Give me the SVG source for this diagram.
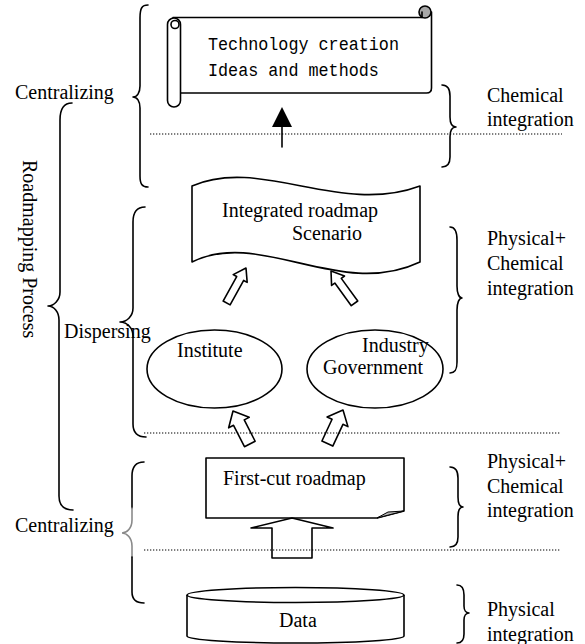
<svg xmlns="http://www.w3.org/2000/svg" width="585" height="644" viewBox="0 0 585 644">
<defs>
<style>
.ln{fill:none;stroke:#000;stroke-width:1.6;stroke-linejoin:round;stroke-linecap:round}
.gr{fill:none;stroke:#8a8a8a;stroke-width:1.6;stroke-linecap:round}
.sh{fill:#fff;stroke:#000;stroke-width:1.6;stroke-linejoin:round}
.dot{fill:none;stroke:#000;stroke-width:1.2;stroke-dasharray:1.3 1.7}
.t{font-family:"Liberation Serif","Times New Roman",serif;font-size:20px;fill:#000}
.m{font-family:"Liberation Mono","Courier New",monospace;font-size:16.75px;fill:#000}
</style>
<polygon id="arS" points="0,0 8,12 4,12 4,40 -4,40 -4,12 -8,12"/>
<polygon id="arL" points="0,0 11.5,13 6,13 6,37 -6,37 -6,13 -11.5,13"/>
</defs>
<rect width="585" height="644" fill="#fff"/>

<g id="braces">
<path class="ln" d="M148,5 C142,5 140,8 140,18 L140,86 C140,93 137,97 133,97 C137,97 140,101 140,108 L140,176 C140,184 142,187 148,187"/>
<path class="ln" d="M72,103 C64,103 60,108 60,120 L60,292 C60,300 54,306 48,306 C54,306 59,312 59,320 L59,496 C59,505 64,510 73,510"/>
<path class="ln" d="M145,207 C138,207 133,211 133,222 L133,308 C133,316 127,322 120,322 C127,322 133,328 133,336 L133,424 C133,433 138,437 146,437"/>
<path class="ln" d="M144,462 C136,462 132,466 132,476 L132,508"/>
<path class="gr" d="M132,508 L132,520 C132,528 127,533 122,533 C127,533 132,538 132,546 L132,557"/>
<path class="ln" d="M132,557 L132,592 C132,600 136,603 144,603"/>
<path class="ln" d="M442,85 C447,85 450,88 450,96 L450,117 C450,123 452,127 456,127 C452,127 450,131 450,137 L450,157 C450,164 447,167 442,167"/>
<path class="ln" d="M450,227 C455,227 457,231 457,240 L457,286 C457,293 459,298 462,298 C459,298 457,303 457,310 L457,362 C457,370 455,373 450,373"/>
<path class="ln" d="M450,467 C455,467 458,470 458,478 L458,497 C458,503 460,507 463,507 C460,507 458,511 458,517 L458,537 C458,544 455,547 450,547"/>
<path class="ln" d="M457,585 C462,585 464,588 464,595 L464,606 C464,610 466,613 469,613 C466,613 464,616 464,620 L464,634 C464,640 462,643 457,643"/>
</g>

<g id="scroll">
<path class="ln" d="M173,17.5 L422,17.5"/>
<path class="ln" d="M431.5,12 L431.5,88 Q431.5,93 426.5,93 L181,93"/>
<circle cx="425" cy="12" r="6" fill="#a8a8a8" stroke="#000" stroke-width="1.6"/>
<path class="ln" d="M422,12 L422,17.5"/>
<rect class="sh" x="167.5" y="18" width="13" height="89" rx="6.5"/>
<circle cx="175" cy="24.5" r="4" fill="none" stroke="#000" stroke-width="1.6"/>
<text class="m" transform="translate(208,50) scale(1,1.15)">Technology creation</text>
<text class="m" transform="translate(208,76) scale(1,1.15)">Ideas and methods</text>
</g>

<g id="integrated">
<path class="sh" d="M192,186 C260,156 340,216 420,186 L420,262 C340,300 260,228 192,262 Z"/>
<text class="t" x="222" y="217">Integrated roadmap</text>
<text class="t" x="292" y="240">Scenario</text>
</g>

<g id="institute">
<ellipse class="sh" cx="214.5" cy="369" rx="67.5" ry="39"/>
<text class="t" x="177" y="357">Institute</text>
</g>

<g id="industry">
<ellipse class="sh" cx="375" cy="369" rx="68" ry="39"/>
<text class="t" x="362" y="352">Industry</text>
<text class="t" x="323" y="374">Government</text>
</g>

<g id="firstcut">
<path class="sh" d="M206,458 L404,458 L404,511 L377,518 L206,518 Z"/>
<polygon points="377,518 404,511 388,512" fill="#b5b5b5" stroke="#000" stroke-width="1"/>
<text class="t" x="223" y="485">First-cut roadmap</text>
</g>

<g id="data">
<path class="sh" d="M187,595 L187,636 A108.5,7 0 0 0 404,636 L404,595"/>
<ellipse class="sh" cx="295.5" cy="595" rx="108.5" ry="7.5"/>
<text class="t" x="279" y="627">Data</text>
</g>

<g id="connectors">
<path d="M282,107 L292,127 L272,127 Z" fill="#000"/>
<path class="ln" d="M282,127 L282,147" stroke-width="2"/>
<use href="#arS" class="sh" transform="translate(246,268) rotate(29)"/>
<use href="#arS" class="sh" transform="translate(331,271) rotate(-36)"/>
<use href="#arL" class="sh" transform="translate(233,411) rotate(-27)"/>
<use href="#arL" class="sh" transform="translate(343,410) rotate(25)"/>
<polygon class="sh" points="292,518 333,528 312,528 312,558 272,558 272,528 251,528"/>
</g>

<g id="dividers">
<path class="dot" d="M150,134 L562,134"/>
<path class="dot" d="M144,433 L561,433"/>
<path class="dot" d="M144,550 L561,550"/>
</g>

<g id="labels">
<text class="t" x="15" y="99">Centralizing</text>
<text class="t" x="15" y="532">Centralizing</text>
<text class="t" x="64" y="338">Dispersing</text>
<text class="t" transform="translate(23,160) rotate(90)">Roadmapping Process</text>
<text class="t" x="487" y="102">Chemical</text>
<text class="t" x="487" y="126">integration</text>
<text class="t" x="487" y="245">Physical+</text>
<text class="t" x="487" y="270">Chemical</text>
<text class="t" x="487" y="295">integration</text>
<text class="t" x="487" y="468">Physical+</text>
<text class="t" x="487" y="493">Chemical</text>
<text class="t" x="487" y="517">integration</text>
<text class="t" x="487" y="616">Physical</text>
<text class="t" x="487" y="641">integration</text>
</g>
</svg>
